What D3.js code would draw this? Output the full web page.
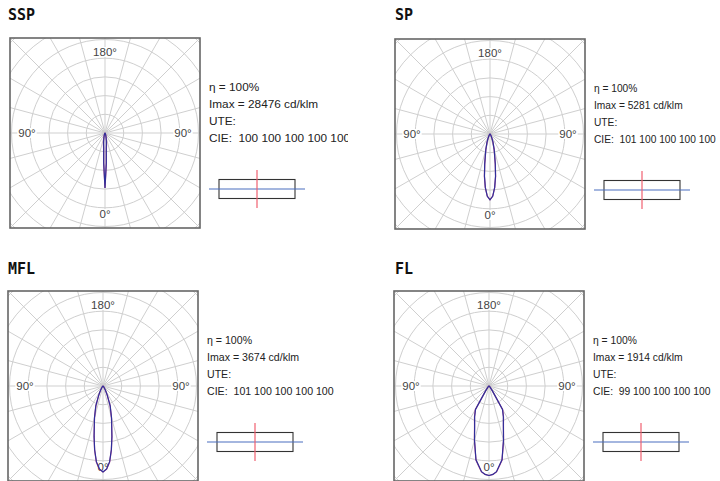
<!DOCTYPE html>
<html>
<head>
<meta charset="utf-8">
<script src="https://cdn.jsdelivr.net/npm/d3@7"></script>
<style>
  body { margin: 0; background: #fff; }
  svg { display: block; }
  text { white-space: pre; }
</style>
</head>
<body>
<svg width="720" height="481"></svg>
<script>
// chart names and photometric summary
var names = ["SSP", "SP", "MFL", "FL"];
var eta = [100, 100, 100, 100];
var imax = [28476, 5281, 3674, 1914];
var ute = ["", "", "", ""];
var cie = ["100 100 100 100 100", "101 100 100 100 100", "101 100 100 100 100", "99 100 100 100 100"];

// value of one grid ring (cd/klm) for each chart
var ringStep = [9700, 1500, 800, 400];

// gamma angles (deg, 0 = straight down)
var gammas = [0, 2.5, 5, 7.5, 10, 15, 20, 25, 30, 35, 40, 50, 60, 70, 80, 90];

// intensities cd/klm, C0-C180 plane (blue)
var ssp_c0 = [28476, 15500, 7700, 5400, 3900, 1900, 950, 480, 240, 120, 60, 25, 10, 5, 2, 0];
var sp_c0  = [5281, 5000, 4300, 3400, 2450, 1300, 700, 350, 180, 100, 60, 25, 10, 5, 2, 0];
var mfl_c0 = [3674, 3550, 3250, 2740, 2200, 1410, 900, 430, 210, 100, 50, 20, 10, 5, 2, 0];
var fl_c0  = [1914, 1893, 1840, 1711, 1604, 1198, 898, 727, 578, 128, 40, 15, 8, 4, 2, 0];

// intensities cd/klm, C90-C270 plane (red)
var ssp_c90 = [28476, 16000, 8200, 6100, 4600, 2300, 1100, 520, 250, 120, 60, 25, 10, 5, 2, 0];
var sp_c90  = [5281, 4980, 4330, 3450, 2420, 1280, 690, 340, 175, 100, 60, 25, 10, 5, 2, 0];
var mfl_c90 = [3674, 3560, 3270, 2760, 2180, 1400, 880, 420, 205, 100, 50, 20, 10, 5, 2, 0];
var fl_c90  = [1914, 1895, 1845, 1720, 1610, 1205, 905, 735, 585, 130, 40, 15, 8, 4, 2, 0];

var c0 = [ssp_c0, sp_c0, mfl_c0, fl_c0];
var c90 = [ssp_c90, sp_c90, mfl_c90, fl_c90];

var svg = d3.select("svg");

// layout of the four panels (box top-left corners)
var boxes = [[10, 38], [395, 39], [8, 291], [394, 291]];
var titlePos = [[8, 20], [395, 20], [8, 274], [395, 274]];
var textFont = [11.8, 10.2, 10.6, 10.3];
var boxSize = 190;
var ringPx = 18.7;

names.forEach(function (name, i) {
    var bx = boxes[i][0], by = boxes[i][1];
    var cx = bx + boxSize / 2, cy = by + boxSize / 2;

    // title
    svg.append("text")
        .attr("x", titlePos[i][0])
        .attr("y", titlePos[i][1])
        .attr("font-family", "DejaVu Sans Mono")
        .attr("font-weight", "bold")
        .attr("font-size", "15px")
        .attr("fill", "#111")
        .text(name);

    // clip for the polar grid
    svg.append("clipPath")
        .attr("id", "clip" + i)
        .append("rect")
        .attr("x", bx).attr("y", by)
        .attr("width", boxSize).attr("height", boxSize);

    var g = svg.append("g").attr("clip-path", "url(#clip" + i + ")");

    // radius scale
    var r = d3.scaleLinear().domain([0, ringStep[i]]).range([0, ringPx]);
    var rings = d3.range(1, 8).map(function (k) { return k * ringStep[i]; });

    g.selectAll("circle")
        .data(rings)
        .enter()
        .append("circle")
        .attr("cx", cx).attr("cy", cy)
        .attr("r", function (d) { return r(d); })
        .attr("fill", "none")
        .attr("stroke", "#cfcfcf")
        .attr("stroke-width", 1);

    g.selectAll("line.spoke")
        .data(d3.range(0, 360, 15))
        .enter()
        .append("line")
        .attr("class", "spoke")
        .attr("x1", cx).attr("y1", cy)
        .attr("x2", function (d) { return cx + 150 * Math.sin(d * Math.PI / 180); })
        .attr("y2", function (d) { return cy - 150 * Math.cos(d * Math.PI / 180); })
        .attr("stroke", "#cfcfcf")
        .attr("stroke-width", 1);

    // angle labels with white background
    var labels = [
        {t: "180°", x: cx, y: cy - 81},
        {t: "0°", x: cx, y: cy + 81},
        {t: "90°", x: cx - 78, y: cy},
        {t: "90°", x: cx + 78, y: cy}
    ];
    labels.forEach(function (l) {
        var lt = svg.append("text")
            .attr("x", l.x).attr("y", l.y)
            .attr("text-anchor", "middle")
            .attr("dominant-baseline", "central")
            .attr("font-family", "Liberation Sans, Arial, sans-serif")
            .attr("font-size", "11.5px")
            .attr("fill", "#444")
            .text(l.t);
        var bb = lt.node().getBBox();
        svg.insert("rect", function () { return lt.node(); })
            .attr("x", bb.x - 1).attr("y", bb.y + 1)
            .attr("width", bb.width + 2).attr("height", bb.height - 2)
            .attr("fill", "#fff");
    });

    // photometric curves: each plane mirrored to both sides
    var line = d3.lineRadial()
        .angle(function (d) { return d[0]; })
        .radius(function (d) { return r(d[1]); });

    function curvePoints(vals) {
        var pts = [];
        for (var k = gammas.length - 1; k >= 0; k--) {
            pts.push([Math.PI + gammas[k] * Math.PI / 180, vals[k]]);
        }
        for (var k2 = 1; k2 < gammas.length; k2++) {
            pts.push([Math.PI - gammas[k2] * Math.PI / 180, vals[k2]]);
        }
        return pts;
    }

    var cg = svg.append("g").attr("transform", "translate(" + cx + "," + cy + ")");
    cg.append("path")
        .attr("d", line(curvePoints(c90[i])))
        .attr("fill", "none")
        .attr("stroke", "#c8508a")
        .attr("stroke-width", 1.2);
    cg.append("path")
        .attr("d", line(curvePoints(c0[i])))
        .attr("fill", "none")
        .attr("stroke", "#2f2f9a")
        .attr("stroke-width", 1.2);

    // frame
    svg.append("rect")
        .attr("x", bx).attr("y", by)
        .attr("width", boxSize).attr("height", boxSize)
        .attr("fill", "none")
        .attr("stroke", "#666")
        .attr("stroke-width", 1.6);

    // info text
    var tx = bx + boxSize + 9;
    var ty = cy - 46;
    svg.append("clipPath")
        .attr("id", "tclip" + i)
        .append("rect")
        .attr("x", tx - 2).attr("y", ty - 20)
        .attr("width", 141).attr("height", 80);
    var info = [
        "\u03b7 = " + eta[i] + "%",
        "Imax = " + imax[i] + " cd/klm",
        "UTE: " + ute[i],
        "CIE:  " + cie[i]
    ];
    svg.append("g")
        .attr("clip-path", "url(#tclip" + i + ")")
        .selectAll("text")
        .data(info)
        .enter()
        .append("text")
        .attr("x", tx)
        .attr("y", function (d, k) { return ty + k * 17; })
        .attr("dominant-baseline", "central")
        .attr("font-family", "Liberation Sans, Arial, sans-serif")
        .attr("font-size", textFont[i] + "px")
        .attr("fill", "#222")
        .text(function (d) { return d; });

    // luminaire symbol
    var sy = cy + 56;
    var sx = tx + 10;
    svg.append("rect")
        .attr("x", sx).attr("y", sy - 9.5)
        .attr("width", 76).attr("height", 19)
        .attr("fill", "none")
        .attr("stroke", "#333")
        .attr("stroke-width", 1.1);
    svg.append("line")
        .attr("x1", tx).attr("x2", tx + 96)
        .attr("y1", sy).attr("y2", sy)
        .attr("stroke", "#4a6fc0")
        .attr("stroke-width", 1.2);
    svg.append("line")
        .attr("x1", sx + 38).attr("x2", sx + 38)
        .attr("y1", sy - 19).attr("y2", sy + 19)
        .attr("stroke", "#f06070")
        .attr("stroke-width", 1.2);
});
</script>
</body>
</html>
